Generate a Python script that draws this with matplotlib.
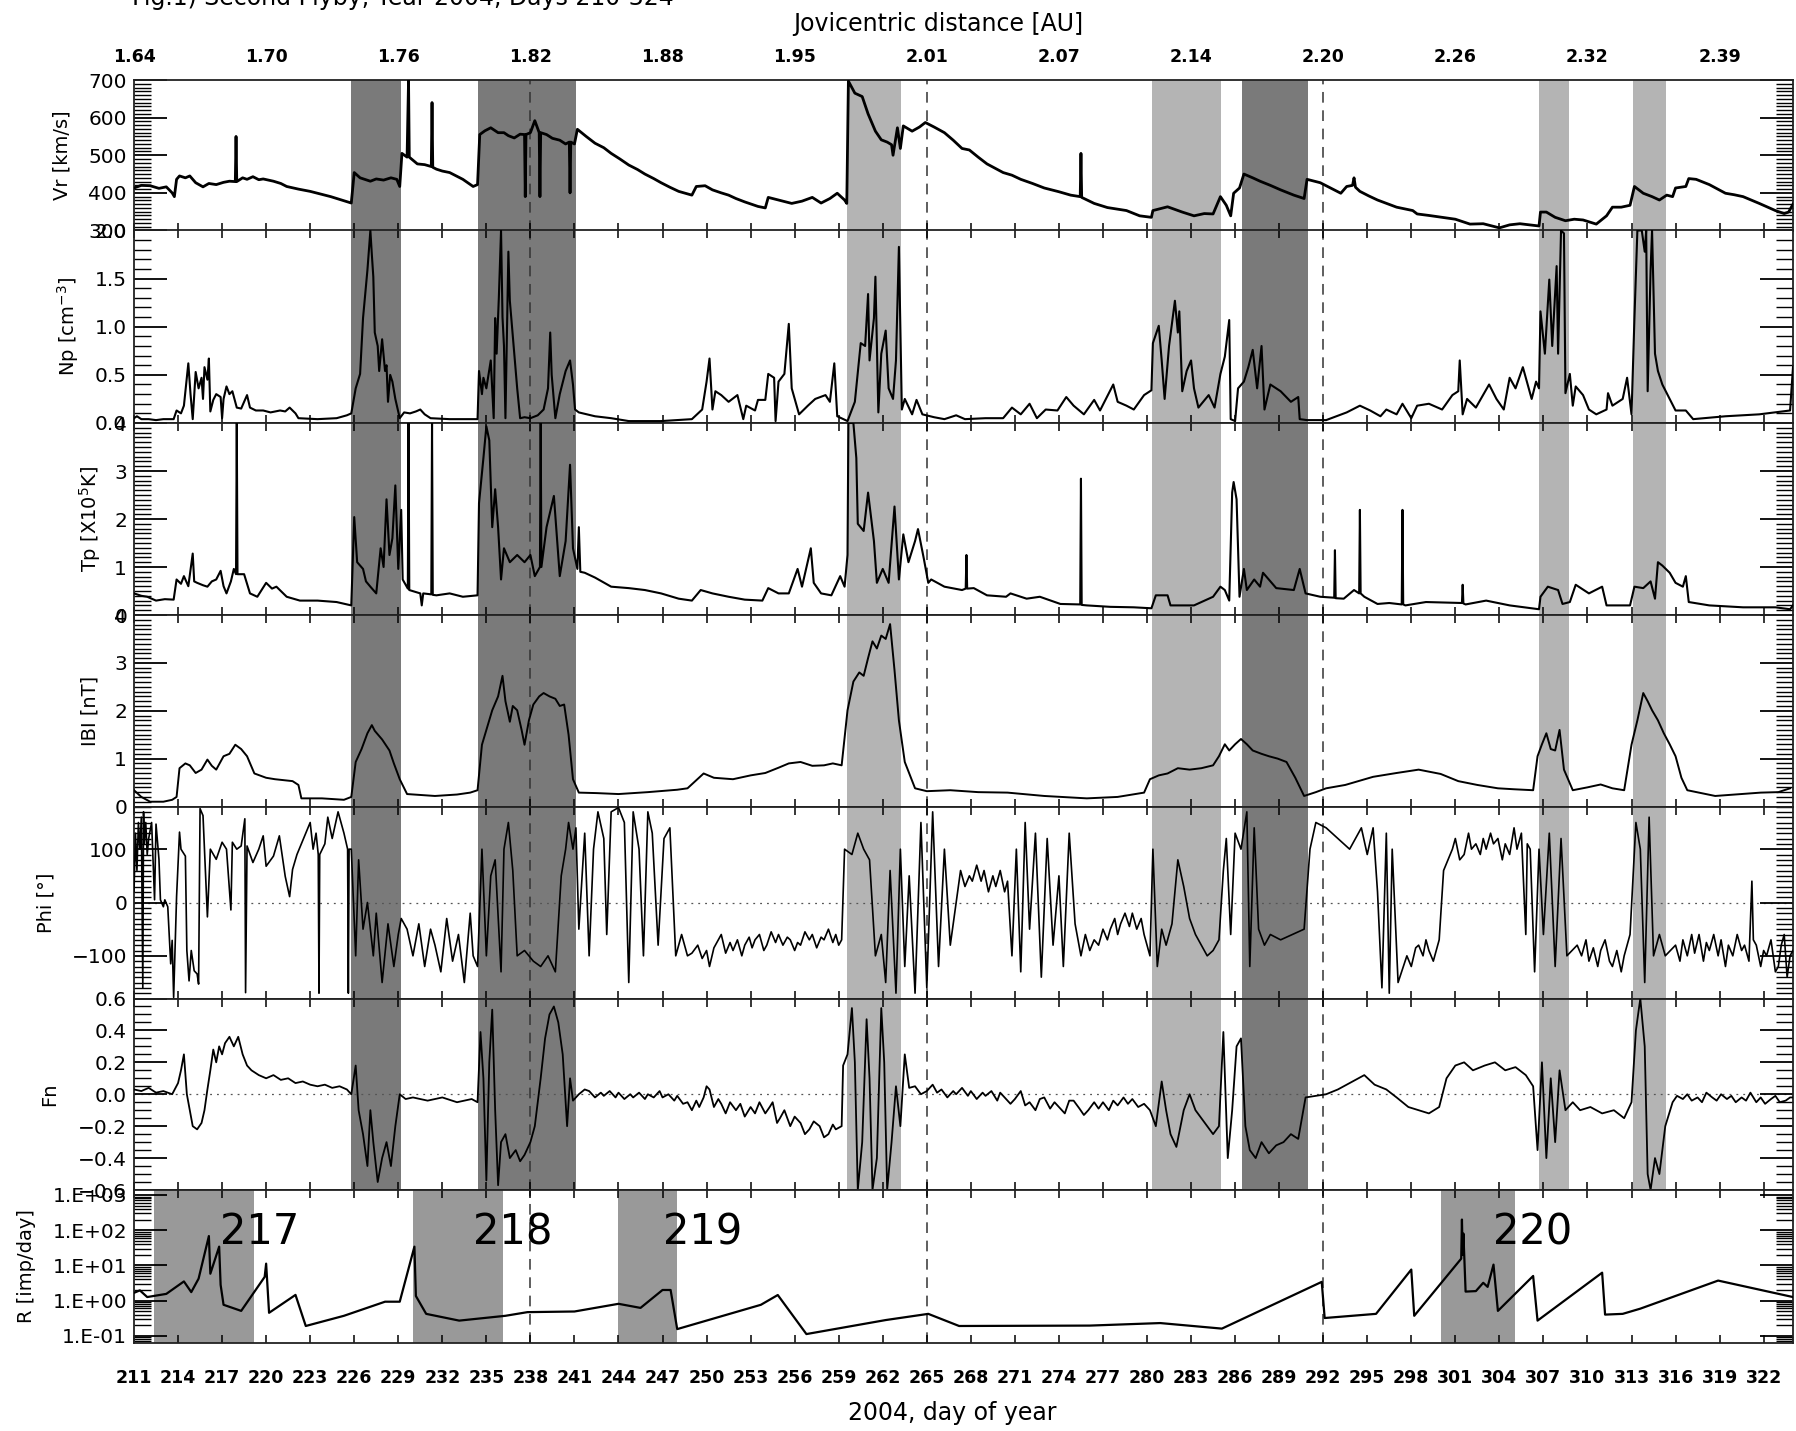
"""Ulysses second Jupiter flyby 2004: solar wind, field and dust impact rate panels."""
import numpy as np
import matplotlib
matplotlib.use("Agg")
import matplotlib.pyplot as plt
from matplotlib.ticker import FixedLocator, MultipleLocator, LogLocator, FuncFormatter, NullFormatter

# (day of year, value) pairs per panel
VR = [(211.0,413),(211.5,420),(212.1,419),(212.7,412),(213.2,416),(213.6,400),(213.75,390),(213.9,436),(214.1,445),(214.5,440),(214.8,445),(215.2,427),(215.7,416),(216.1,425),(216.6,422),(217.1,428),(217.5,431),(217.9,430),(217.95,550),(218.0,430),(218.4,440),(218.7,436),(219.1,443),(219.5,435),(219.8,437),(220.5,431),(221.0,425),(221.4,417),(222.2,410),(223.0,404),(223.7,397),(224.4,390),(225.3,379),(225.8,373),(226.0,454),(226.4,440),(226.8,435),(227.1,431),(227.5,437),(228.0,434),(228.5,440),(228.9,436),(229.1,417),(229.25,505),(229.6,495),(229.7,700),(229.75,495),(230.3,477),(230.8,475),(231.25,470),(231.3,640),(231.35,468),(231.6,463),(232.0,458),(232.5,454),(233.0,444),(233.4,436),(234.1,417),(234.4,422),(234.55,555),(234.9,565),(235.3,573),(235.8,560),(236.2,560),(236.5,552),(236.9,546),(237.3,556),(237.6,555),(237.65,390),(237.7,555),(238.0,560),(238.3,592),(238.6,560),(238.65,390),(238.7,560),(239.1,555),(239.5,545),(240.0,540),(240.4,530),(240.65,535),(240.7,400),(240.75,535),(241.0,530),(241.2,569),(241.8,550),(242.4,532),(243.0,520),(243.5,505),(244.1,490),(244.7,474),(245.3,462),(245.8,450),(246.4,438),(246.9,427),(247.5,415),(248.1,404),(249.0,394),(249.3,417),(249.9,419),(250.4,408),(251.0,400),(251.5,394),(252.0,385),(252.6,376),(253.5,364),(254.0,360),(254.2,388),(254.9,381),(255.4,376),(255.8,372),(256.5,378),(257.2,388),(257.8,373),(258.4,385),(258.9,399),(259.4,381),(259.55,372),(259.66,697),(260.1,665),(260.6,656),(261.0,610),(261.5,564),(261.9,541),(262.3,535),(262.6,528),(262.7,500),(263.0,573),(263.2,518),(263.4,578),(264.0,564),(264.5,575),(264.9,587),(265.5,575),(266.2,560),(266.8,540),(267.4,518),(267.9,514),(268.5,495),(269.1,477),(270.2,454),(270.8,447),(271.4,436),(272.2,425),(273.0,413),(274.0,403),(274.8,394),(275.45,390),(275.5,505),(275.55,388),(276.4,372),(277.3,361),(278.6,353),(279.5,339),(280.3,335),(280.4,353),(281.4,363),(282.4,349),(283.2,339),(283.9,345),(284.5,344),(285.0,390),(285.4,367),(285.7,339),(285.9,399),(286.3,413),(286.6,450),(287.2,440),(287.7,431),(288.4,420),(289.1,408),(290.0,394),(290.7,385),(290.9,436),(291.8,427),(292.5,413),(293.2,399),(293.6,417),(294.0,420),(294.1,440),(294.2,415),(294.5,404),(295.1,392),(295.7,381),(297.0,362),(298.1,353),(298.4,344),(299.2,340),(300.1,335),(301.0,330),(302.0,317),(302.9,318),(304.0,307),(304.7,315),(305.4,318),(306.7,312),(306.8,349),(307.2,349),(307.8,335),(308.5,326),(309.1,330),(309.7,328),(310.6,317),(311.3,339),(311.7,362),(312.3,362),(312.9,367),(313.2,417),(313.8,399),(314.4,390),(314.9,381),(315.4,394),(315.8,390),(316.0,413),(316.7,417),(316.9,438),(317.4,436),(318.3,422),(319.4,399),(320.0,395),(320.6,390),(321.7,372),(322.8,353),(323.4,345),(323.7,349),(324.0,370)]

NP = [(211.0,0.05),(211.2,0.07),(211.5,0.04),(212.0,0.04),(212.5,0.03),(213.0,0.04),(213.7,0.04),(213.9,0.13),(214.2,0.10),(214.4,0.18),(214.7,0.62),(214.85,0.30),(215.0,0.04),(215.2,0.53),(215.4,0.36),(215.6,0.47),(215.7,0.25),(215.8,0.58),(216.0,0.45),(216.1,0.67),(216.2,0.12),(216.4,0.24),(216.6,0.30),(216.9,0.27),(217.0,0.05),(217.1,0.25),(217.3,0.38),(217.5,0.30),(217.7,0.33),(218.0,0.16),(218.3,0.15),(218.5,0.22),(218.7,0.29),(218.9,0.16),(219.3,0.13),(219.8,0.13),(220.3,0.11),(220.95,0.13),(221.3,0.12),(221.6,0.16),(222.0,0.10),(222.2,0.05),(223.5,0.04),(224.8,0.05),(225.5,0.08),(225.8,0.10),(226.1,0.36),(226.4,0.51),(226.6,1.09),(226.9,1.59),(227.1,2.0),(227.2,1.75),(227.3,1.52),(227.4,0.94),(227.6,0.80),(227.7,0.54),(227.9,0.87),(228.1,0.54),(228.2,0.60),(228.3,0.22),(228.45,0.50),(228.6,0.43),(228.8,0.25),(229.1,0.05),(229.4,0.11),(229.8,0.10),(230.2,0.12),(230.5,0.14),(230.8,0.09),(231.2,0.05),(232.5,0.04),(234.4,0.04),(234.5,0.54),(234.7,0.30),(234.8,0.47),(235.0,0.36),(235.3,0.65),(235.5,0.05),(235.6,1.09),(235.7,0.72),(235.85,1.3),(236.0,2.0),(236.1,1.1),(236.2,0.80),(236.3,0.05),(236.5,1.78),(236.6,1.27),(236.75,1.0),(236.9,0.72),(237.1,0.36),(237.3,0.05),(237.6,0.06),(238.0,0.05),(238.5,0.08),(238.9,0.14),(239.2,0.36),(239.35,0.94),(239.45,0.50),(239.7,0.05),(240.0,0.30),(240.4,0.54),(240.7,0.65),(240.9,0.40),(241.04,0.14),(241.3,0.11),(242.4,0.07),(243.5,0.05),(244.7,0.02),(246.9,0.02),(249.0,0.04),(249.7,0.14),(250.0,0.43),(250.2,0.67),(250.4,0.14),(250.6,0.33),(251.0,0.29),(251.5,0.22),(252.1,0.29),(252.5,0.04),(252.7,0.18),(253.3,0.13),(253.5,0.24),(254.0,0.24),(254.2,0.51),(254.6,0.47),(254.7,0.02),(254.9,0.43),(255.3,0.51),(255.6,1.03),(255.8,0.36),(256.3,0.09),(256.9,0.18),(257.4,0.25),(258.1,0.29),(258.4,0.22),(258.7,0.62),(258.9,0.07),(259.6,0.02),(260.1,0.22),(260.5,0.83),(260.8,0.80),(261.0,1.34),(261.1,0.65),(261.4,1.09),(261.5,1.52),(261.7,0.11),(261.9,0.72),(262.2,0.96),(262.4,0.36),(262.7,0.25),(262.9,0.65),(263.1,1.83),(263.3,0.14),(263.5,0.25),(264.0,0.09),(264.3,0.24),(264.7,0.09),(265.5,0.06),(266.2,0.04),(267.0,0.08),(267.6,0.04),(269.0,0.05),(270.2,0.05),(270.8,0.16),(271.4,0.09),(272.0,0.20),(272.5,0.05),(273.1,0.14),(273.9,0.13),(274.5,0.27),(275.0,0.18),(275.7,0.09),(276.4,0.24),(276.8,0.13),(277.7,0.40),(278.0,0.22),(278.6,0.18),(279.1,0.14),(279.8,0.29),(280.3,0.34),(280.4,0.83),(280.8,1.01),(281.0,0.65),(281.2,0.25),(281.5,0.80),(281.9,1.27),(282.1,0.94),(282.2,1.16),(282.4,0.33),(282.7,0.54),(283.0,0.65),(283.2,0.36),(283.5,0.16),(284.2,0.29),(284.6,0.16),(285.0,0.51),(285.3,0.69),(285.6,1.07),(285.7,0.04),(286.0,0.02),(286.2,0.36),(286.6,0.43),(286.9,0.58),(287.2,0.76),(287.5,0.36),(287.8,0.80),(288.0,0.14),(288.4,0.40),(289.1,0.33),(289.8,0.22),(290.3,0.27),(290.4,0.04),(290.9,0.03),(292.2,0.03),(293.6,0.11),(294.5,0.18),(295.2,0.13),(295.9,0.07),(296.3,0.14),(297.0,0.09),(297.4,0.20),(298.0,0.05),(298.4,0.18),(299.2,0.20),(300.1,0.14),(300.8,0.29),(301.2,0.33),(301.3,0.65),(301.5,0.09),(301.8,0.25),(302.4,0.16),(303.3,0.40),(303.8,0.25),(304.3,0.14),(304.7,0.47),(305.1,0.36),(305.6,0.58),(306.2,0.25),(306.5,0.43),(306.7,0.36),(306.8,1.16),(307.1,0.72),(307.4,1.49),(307.6,0.80),(307.9,1.63),(308.0,0.72),(308.2,2.0),(308.4,1.97),(308.5,0.31),(308.8,0.51),(309.0,0.18),(309.2,0.38),(309.7,0.29),(310.1,0.14),(310.6,0.09),(311.3,0.14),(311.4,0.31),(311.7,0.18),(312.4,0.25),(312.7,0.47),(313.0,0.09),(313.2,1.09),(313.4,2.0),(313.7,2.0),(313.9,1.78),(314.0,2.0),(314.1,0.33),(314.3,1.59),(314.4,2.0),(314.6,0.72),(314.8,0.54),(315.1,0.40),(315.6,0.25),(316.0,0.13),(316.7,0.13),(317.2,0.04),(319.4,0.07),(321.7,0.09),(323.8,0.13),(324.0,0.58)]

TP = [(211.0,0.45),(211.5,0.40),(211.9,0.38),(212.5,0.30),(213.1,0.33),(213.7,0.32),(213.9,0.74),(214.2,0.65),(214.4,0.81),(214.7,0.60),(215.0,1.28),(215.1,0.70),(215.3,0.67),(215.7,0.62),(216.0,0.59),(216.3,0.70),(216.6,0.74),(216.9,0.92),(217.1,0.60),(217.3,0.45),(217.6,0.70),(217.8,0.96),(217.95,0.85),(218.0,4.0),(218.05,0.85),(218.5,0.85),(218.9,0.45),(219.4,0.38),(220.0,0.67),(220.4,0.55),(220.7,0.59),(221.4,0.38),(222.3,0.30),(223.5,0.30),(224.8,0.27),(225.8,0.20),(226.0,2.04),(226.2,1.10),(226.6,0.96),(226.8,0.70),(227.1,0.59),(227.5,0.45),(227.8,1.39),(228.0,1.0),(228.2,2.41),(228.4,1.25),(228.6,1.6),(228.8,2.70),(229.0,0.96),(229.2,2.19),(229.3,0.74),(229.65,0.55),(229.7,4.0),(229.75,0.52),(230.5,0.45),(230.6,0.20),(230.7,0.45),(231.25,0.43),(231.3,4.0),(231.35,0.42),(231.6,0.41),(232.5,0.45),(233.4,0.38),(234.4,0.41),(234.5,2.33),(234.8,3.27),(235.0,3.93),(235.2,3.64),(235.4,1.83),(235.6,2.62),(235.8,1.83),(236.0,0.74),(236.2,1.39),(236.6,1.10),(237.1,1.25),(237.6,1.10),(238.0,1.25),(238.3,0.81),(238.65,1.0),(238.7,4.0),(238.75,1.0),(239.1,1.83),(239.6,2.48),(240.0,0.81),(240.4,1.54),(240.7,3.13),(240.9,1.39),(241.2,0.96),(241.3,1.83),(241.4,0.90),(241.7,0.88),(242.4,0.78),(243.5,0.59),(244.7,0.56),(245.8,0.52),(246.9,0.45),(248.1,0.34),(249.0,0.30),(249.6,0.52),(250.4,0.45),(251.5,0.38),(252.6,0.32),(253.8,0.30),(254.2,0.56),(254.9,0.45),(255.6,0.45),(256.2,0.96),(256.5,0.59),(257.1,1.39),(257.3,0.67),(257.8,0.45),(258.5,0.41),(259.1,0.81),(259.4,0.59),(259.6,1.25),(259.66,4.0),(260.0,4.0),(260.2,3.27),(260.3,1.90),(260.7,1.75),(261.0,2.55),(261.4,1.54),(261.6,0.67),(262.0,0.96),(262.4,0.67),(262.8,2.26),(263.1,0.74),(263.4,1.68),(263.75,1.10),(264.2,1.54),(264.4,1.79),(264.8,1.17),(265.1,0.67),(265.3,0.74),(266.2,0.59),(267.4,0.52),(267.65,0.55),(267.7,1.25),(267.75,0.55),(268.2,0.56),(269.1,0.41),(270.4,0.38),(270.7,0.45),(271.8,0.34),(272.7,0.38),(274.1,0.23),(275.45,0.22),(275.5,2.84),(275.55,0.21),(275.9,0.20),(277.5,0.17),(279.1,0.16),(280.3,0.14),(280.6,0.41),(281.4,0.41),(281.6,0.20),(283.2,0.20),(284.5,0.38),(285.0,0.59),(285.3,0.52),(285.6,0.30),(285.8,2.55),(285.9,2.77),(286.1,2.41),(286.3,0.38),(286.6,0.96),(286.8,0.52),(287.3,0.74),(287.7,0.59),(287.9,0.88),(288.8,0.56),(290.0,0.52),(290.4,0.96),(290.8,0.45),(291.8,0.38),(292.75,0.36),(292.8,1.35),(292.85,0.35),(293.4,0.34),(294.1,0.52),(294.45,0.45),(294.5,2.19),(294.55,0.45),(294.8,0.38),(295.7,0.23),(296.5,0.25),(297.35,0.22),(297.4,2.19),(297.45,0.22),(297.6,0.20),(299.0,0.27),(301.45,0.25),(301.5,0.63),(301.55,0.24),(301.7,0.22),(303.1,0.30),(304.7,0.20),(306.7,0.12),(306.8,0.38),(307.3,0.59),(308.0,0.52),(308.3,0.23),(308.8,0.27),(309.2,0.63),(310.1,0.45),(311.0,0.59),(311.3,0.20),(312.9,0.20),(313.2,0.59),(313.8,0.56),(314.3,0.70),(314.6,0.34),(314.8,1.10),(315.1,1.03),(315.6,0.88),(316.0,0.67),(316.5,0.59),(316.7,0.81),(316.9,0.27),(318.3,0.20),(320.6,0.16),(322.8,0.16),(323.8,0.12),(324.0,0.20)]

BMAG = [(211.0,0.34),(211.5,0.2),(212.1,0.1),(213.0,0.1),(213.6,0.14),(213.9,0.2),(214.1,0.8),(214.5,0.9),(214.8,0.86),(215.2,0.7),(215.6,0.77),(216.0,0.98),(216.3,0.85),(216.6,0.77),(217.1,1.05),(217.5,1.1),(217.9,1.29),(218.3,1.2),(218.7,1.05),(219.2,0.69),(220.0,0.6),(220.6,0.57),(221.2,0.55),(221.8,0.53),(222.2,0.45),(222.4,0.17),(223.8,0.17),(225.3,0.14),(225.8,0.2),(226.1,0.93),(226.5,1.2),(226.9,1.53),(227.2,1.7),(227.4,1.58),(227.9,1.4),(228.4,1.17),(228.7,0.9),(229.1,0.57),(229.6,0.26),(231.5,0.22),(233.0,0.25),(233.9,0.29),(234.4,0.34),(234.7,1.29),(235.0,1.6),(235.4,2.01),(235.8,2.3),(236.1,2.73),(236.3,2.2),(236.6,1.77),(236.8,2.1),(237.1,2.01),(237.4,1.6),(237.6,1.29),(237.9,1.8),(238.2,2.13),(238.6,2.3),(238.9,2.37),(239.3,2.3),(239.7,2.25),(240.0,2.1),(240.3,2.13),(240.6,1.5),(240.9,0.57),(241.3,0.29),(242.5,0.28),(244.0,0.26),(246.0,0.3),(248.0,0.35),(248.7,0.38),(249.3,0.55),(249.8,0.69),(250.5,0.6),(251.8,0.57),(253.0,0.65),(254.0,0.7),(254.9,0.81),(255.6,0.9),(256.4,0.93),(257.2,0.85),(258.0,0.86),(258.6,0.9),(259.2,0.86),(259.6,2.01),(260.0,2.61),(260.4,2.8),(260.7,2.73),(261.0,3.1),(261.3,3.45),(261.6,3.3),(261.9,3.57),(262.2,3.5),(262.5,3.81),(262.8,2.85),(263.1,1.8),(263.5,0.93),(264.2,0.38),(265.0,0.32),(266.6,0.34),(268.5,0.3),(270.5,0.29),(273.0,0.22),(275.9,0.17),(278.0,0.2),(279.8,0.29),(280.2,0.57),(280.8,0.65),(281.4,0.69),(282.1,0.8),(282.9,0.77),(283.7,0.8),(284.5,0.86),(284.9,1.05),(285.3,1.3),(285.6,1.17),(286.0,1.3),(286.4,1.41),(286.8,1.3),(287.2,1.17),(287.8,1.1),(288.3,1.05),(288.9,1.0),(289.5,0.93),(290.1,0.6),(290.7,0.22),(291.5,0.3),(292.2,0.38),(293.5,0.45),(295.4,0.62),(297.0,0.7),(298.5,0.77),(300.0,0.68),(301.2,0.53),(302.5,0.45),(303.9,0.38),(305.0,0.36),(306.3,0.34),(306.6,1.05),(306.9,1.3),(307.2,1.53),(307.5,1.2),(307.8,1.17),(308.1,1.6),(308.4,0.77),(309.0,0.34),(310.0,0.4),(310.9,0.46),(311.7,0.38),(312.5,0.34),(313.0,1.29),(313.4,1.8),(313.8,2.37),(314.1,2.2),(314.4,2.01),(314.8,1.8),(315.2,1.53),(315.6,1.3),(316.0,1.05),(316.4,0.6),(316.8,0.34),(318.7,0.22),(320.0,0.25),(321.8,0.29),(323.0,0.3),(323.8,0.38)]

PHI = [(211.0,20),(211.1,130),(211.2,60),(211.3,150),(211.4,100),(211.5,160),(211.6,-160),(211.65,170),(211.7,110),(211.8,150),(211.9,90),(212.0,120),(212.2,150),(212.4,5),(212.5,147),(212.7,81),(212.8,5),(213.0,-8),(213.1,5),(213.3,-8),(213.5,-115),(213.6,-71),(213.7,-178),(213.9,11),(214.1,132),(214.2,100),(214.5,87),(214.6,-90),(214.75,-147),(214.9,-90),(215.1,-128),(215.3,-134),(215.4,-153),(215.5,176),(215.7,163),(215.8,100),(216.0,-27),(216.2,100),(216.6,81),(217.0,113),(217.3,100),(217.6,-14),(217.7,113),(218.0,100),(218.3,106),(218.55,157),(218.6,-169),(218.7,106),(219.1,75),(219.5,100),(219.8,125),(220.0,68),(220.5,87),(220.9,125),(221.3,49),(221.6,11),(221.8,62),(222.1,90),(222.4,110),(222.7,130),(223.0,150),(223.2,100),(223.4,130),(223.55,90),(223.6,-170),(223.65,90),(224.0,110),(224.2,160),(224.5,120),(224.9,170),(225.3,130),(225.55,100),(225.6,-170),(225.65,100),(225.8,100),(226.1,-100),(226.3,80),(226.6,-50),(226.9,0),(227.3,-100),(227.5,-20),(227.9,-150),(228.3,-40),(228.7,-120),(229.0,-60),(229.2,-30),(229.6,-50),(230.0,-100),(230.4,-40),(230.8,-120),(231.2,-50),(231.5,-80),(231.9,-130),(232.3,-30),(232.7,-110),(233.1,-60),(233.5,-150),(233.9,-20),(234.1,-100),(234.4,-120),(234.7,100),(235.0,-100),(235.3,50),(235.6,80),(236.0,-130),(236.2,100),(236.5,150),(236.8,60),(237.1,-100),(237.6,-90),(238.2,-110),(238.7,-120),(239.2,-100),(239.7,-130),(240.1,50),(240.4,100),(240.6,150),(240.9,100),(241.1,140),(241.3,-50),(241.7,130),(242.0,-100),(242.3,100),(242.6,170),(243.0,120),(243.2,-60),(243.5,170),(244.0,178),(244.4,150),(244.7,-150),(245.0,170),(245.4,100),(245.7,-100),(246.0,170),(246.3,130),(246.7,-80),(247.1,120),(247.5,140),(247.9,-100),(248.3,-60),(248.7,-100),
       (249.0,-95),(249.4,-80),(249.7,-105),(250.0,-90),(250.2,-120),(250.5,-85),(250.8,-70),(251.0,-60),(251.3,-95),(251.6,-75),(251.8,-90),(252.1,-70),(252.4,-100),(252.6,-80),(252.9,-65),(253.1,-85),(253.3,-70),(253.6,-60),(253.9,-90),(254.1,-80),(254.4,-55),(254.7,-75),(254.9,-60),(255.2,-80),(255.5,-65),(255.7,-70),(256.0,-90),(256.2,-75),(256.4,-80),(256.7,-55),(257.0,-70),(257.2,-60),(257.5,-85),(257.8,-65),(258.0,-70),(258.3,-50),(258.6,-75),(258.8,-60),(259.0,-80),(259.2,-70),
       (259.4,100),(259.9,90),(260.3,130),(260.7,100),(261.1,80),(261.5,-100),(261.9,-60),(262.2,-150),(262.5,60),(262.9,-170),(263.2,100),(263.5,-120),(263.8,50),(264.2,-170),(264.6,150),(265.0,-160),(265.4,170),(265.8,-120),(266.2,100),(266.6,-80),
       (267.3,60),(267.6,30),(267.9,50),(268.1,40),(268.4,70),(268.7,40),(268.9,60),(269.2,20),(269.5,50),(269.7,30),(270.0,60),(270.3,20),(270.5,40),
       (270.8,-100),(271.1,100),(271.4,-130),(271.7,150),(272.0,-50),(272.4,130),(272.8,-140),(273.2,120),(273.6,-80),(274.0,50),(274.3,-120),(274.7,130),(275.1,-40),
       (275.5,-100),(275.8,-60),(276.1,-90),(276.4,-70),(276.7,-80),(277.0,-50),(277.3,-70),(277.5,-50),(277.8,-30),(278.0,-60),(278.2,-40),(278.5,-20),(278.8,-45),(279.0,-20),(279.3,-50),(279.6,-30),(279.8,-60),
       (280.2,-100),(280.4,100),(280.7,-120),(281.0,-50),(281.3,-80),(281.7,-40),(282.1,80),(282.5,30),(282.9,-30),(283.3,-60),(283.7,-80),(284.1,-100),(284.5,-90),(284.9,-70),(285.2,60),(285.4,120),(285.7,-60),(286.0,130),(286.4,100),(286.8,170),(287.0,-120),(287.3,140),(287.6,-50),(288.0,-80),(288.4,-60),(289.1,-70),(289.9,-60),(290.7,-50),(291.1,100),(291.5,150),(292.2,140),(293.0,120),(293.8,100),(294.6,140),(295.0,90),(295.4,140),(295.7,20),(296.0,-160),(296.3,130),(296.5,-170),(296.7,100),(297.1,-150),
       (297.7,-100),(298.0,-120),(298.3,-85),(298.5,-80),(298.8,-100),(299.0,-70),(299.2,-90),(299.5,-110),(299.9,-70),
       (300.2,60),(300.5,80),(300.8,100),(301.0,120),(301.3,80),(301.6,90),(301.9,130),(302.1,100),(302.4,110),(302.7,90),(302.9,120),(303.1,100),(303.4,130),(303.6,110),(303.9,120),(304.2,80),(304.4,110),(304.7,90),(305.0,140),(305.2,100),(305.5,130),(305.8,-60),(305.9,110),(306.1,100),
       (306.4,-130),(306.7,100),(307.0,-60),(307.4,130),(307.8,-120),(308.2,120),(308.6,-100),
       (309.3,-80),(309.6,-100),(309.9,-70),(310.1,-110),(310.4,-85),(310.7,-120),(310.9,-90),(311.2,-70),(311.5,-110),(311.7,-120),(312.0,-90),(312.3,-130),(312.5,-100),(312.7,-80),(312.9,-60),
       (313.3,150),(313.6,100),(313.9,-150),(314.2,160),(314.5,-100),(314.9,-60),(315.3,-100),
       (316.0,-80),(316.3,-110),(316.5,-70),(316.8,-100),(317.1,-60),(317.3,-95),(317.6,-60),(317.9,-110),(318.1,-75),(318.3,-90),(318.6,-60),(318.9,-100),(319.1,-70),(319.4,-120),(319.6,-80),(319.9,-100),(320.2,-60),(320.5,-90),(320.7,-80),(321.0,-110),(321.2,40),(321.3,-70),(321.5,-80),(321.8,-120),(322.0,-90),(322.2,-100),(322.5,-70),(322.8,-130),(323.0,-120),(323.2,-80),(323.4,-60),(323.6,-140),(323.8,-100),(324.0,-90)]

FN = [(211.0,0.03),(211.5,0.02),(212.0,0.04),(212.5,0.01),(213.0,0.02),(213.6,0.0),(214.0,0.07),(214.2,0.15),(214.4,0.25),(214.6,0.0),(214.8,-0.1),(215.0,-0.2),(215.3,-0.22),(215.6,-0.18),(215.8,-0.1),(216.0,0.03),(216.2,0.15),(216.4,0.28),(216.6,0.2),(216.8,0.30),(217.0,0.25),(217.2,0.32),(217.5,0.36),(217.8,0.30),(218.1,0.36),(218.4,0.25),(218.7,0.18),(219.0,0.15),(219.5,0.12),(220.0,0.10),(220.5,0.12),(221.0,0.09),(221.5,0.10),(222.0,0.07),(222.5,0.08),(223.0,0.06),(223.5,0.05),(224.0,0.06),(224.5,0.04),(225.0,0.05),(225.5,0.03),(225.8,0.0),(226.1,0.18),(226.3,-0.1),(226.6,-0.25),(226.9,-0.45),(227.1,-0.1),(227.3,-0.3),(227.6,-0.55),(227.9,-0.4),(228.2,-0.3),(228.5,-0.45),(228.8,-0.2),(229.1,0.0),(229.5,-0.03),(230.0,-0.02),(231.0,-0.04),(232.0,-0.02),(233.0,-0.05),(234.0,-0.03),(234.4,-0.05),(234.6,0.39),(234.8,0.1),(235.0,-0.54),(235.2,0.2),(235.4,0.53),(235.6,-0.1),(235.8,-0.57),(236.0,-0.3),(236.3,-0.25),(236.6,-0.4),(237.0,-0.35),(237.3,-0.42),(237.6,-0.38),(238.0,-0.3),(238.3,-0.2),(238.7,0.1),(239.0,0.35),(239.3,0.5),(239.6,0.55),(239.9,0.45),(240.2,0.25),(240.5,-0.2),(240.7,0.1),(240.9,-0.04),(241.3,0.0),
      (241.7,0.03),(242.0,0.02),(242.4,-0.02),(242.8,0.01),(243.0,-0.01),(243.4,0.02),(243.8,-0.02),(244.0,0.01),(244.4,-0.03),(244.8,0.0),(245.0,-0.02),(245.4,0.01),(245.8,-0.03),(246.0,0.0),(246.4,-0.02),(246.8,0.02),(247.0,-0.02),(247.4,0.0),(247.8,-0.04),(248.0,-0.01),(248.4,-0.06),(248.7,-0.05),(249.0,-0.1),(249.3,-0.04),(249.5,-0.08),(249.8,-0.02),(250.0,0.05),(250.2,0.03),(250.5,-0.08),(250.8,-0.03),(251.0,-0.06),(251.3,-0.12),(251.6,-0.05),(252.0,-0.1),(252.3,-0.06),(252.6,-0.14),(253.0,-0.08),(253.3,-0.12),(253.6,-0.05),(254.0,-0.12),(254.3,-0.08),(254.5,-0.05),(254.8,-0.18),(255.0,-0.15),(255.3,-0.1),(255.7,-0.2),(256.0,-0.14),(256.4,-0.18),(256.7,-0.25),(257.0,-0.22),(257.3,-0.17),(257.7,-0.2),(258.0,-0.27),(258.3,-0.25),(258.6,-0.19),(258.8,-0.22),(259.2,-0.2),
      (259.3,0.18),(259.6,0.25),(259.9,0.54),(260.1,0.2),(260.3,-0.6),(260.6,-0.3),(260.9,0.47),(261.1,0.1),(261.3,-0.6),(261.6,-0.4),(261.9,0.54),(262.1,0.2),(262.3,-0.6),(262.6,-0.3),(262.9,0.05),(263.2,-0.2),(263.5,0.25),(263.8,0.04),
      (264.2,0.05),(264.6,0.0),(265.0,0.02),(265.4,0.06),(265.7,0.01),(266.0,0.03),(266.4,-0.02),(266.8,0.02),(267.0,0.0),(267.4,0.04),(267.8,-0.01),(268.0,0.02),(268.4,-0.03),(268.8,0.01),(269.0,-0.01),(269.4,0.02),(269.8,-0.04),(270.0,0.01),(270.4,-0.03),(270.7,-0.06),(271.0,-0.03),(271.4,0.02),(271.7,-0.07),(272.0,-0.05),(272.4,-0.1),(272.7,-0.03),(273.0,-0.02),(273.4,-0.09),(273.7,-0.05),(274.0,-0.08),(274.4,-0.12),(274.7,-0.04),(275.0,-0.04),(275.4,-0.09),(275.7,-0.13),(276.0,-0.1),(276.4,-0.05),(276.7,-0.09),(277.0,-0.05),(277.4,-0.1),(277.7,-0.04),(278.0,-0.07),(278.4,-0.02),(278.7,-0.06),(279.0,-0.03),(279.4,-0.08),(279.8,-0.06),
      (280.2,-0.1),(280.6,-0.2),(281.0,0.08),(281.3,-0.1),(281.6,-0.25),(282.0,-0.33),(282.5,-0.1),(282.9,0.0),(283.3,-0.1),(283.7,-0.15),(284.1,-0.2),(284.5,-0.25),(284.9,-0.2),(285.2,0.39),(285.5,-0.4),(285.8,-0.1),(286.1,0.3),(286.4,0.35),(286.7,-0.2),(287.0,-0.35),(287.4,-0.4),(287.8,-0.3),(288.3,-0.37),(288.8,-0.32),(289.3,-0.3),(289.8,-0.25),(290.3,-0.28),(290.8,-0.02),(291.5,-0.01),(292.2,0.0),(293.0,0.03),(294.0,0.08),(294.8,0.12),(295.5,0.06),(296.3,0.03),(297.0,-0.02),(297.8,-0.08),(298.5,-0.1),(299.2,-0.12),(299.9,-0.08),(300.4,0.1),(301.0,0.18),(301.6,0.2),(302.2,0.15),(303.0,0.18),(303.7,0.2),(304.4,0.15),(305.1,0.17),(305.8,0.12),(306.3,0.05),(306.6,-0.35),(306.9,0.2),(307.2,-0.4),(307.5,0.1),(307.8,-0.3),(308.1,0.15),(308.5,-0.1),(309.0,-0.05),(309.5,-0.1),(310.2,-0.08),(311.0,-0.12),(311.8,-0.1),(312.5,-0.15),(313.0,-0.05),(313.3,0.4),(313.6,0.6),(313.9,0.3),(314.1,-0.5),(314.3,-0.6),(314.6,-0.4),(314.9,-0.5),(315.3,-0.2),
      (315.8,-0.05),(316.1,-0.01),(316.5,-0.03),(316.8,0.0),(317.1,-0.04),(317.5,-0.02),(317.8,-0.05),(318.1,0.01),(318.5,-0.02),(318.8,-0.04),(319.1,0.0),(319.5,-0.03),(319.8,-0.01),(320.1,-0.05),(320.5,-0.02),(320.8,-0.04),(321.1,0.01),(321.5,-0.05),(321.8,-0.02),(322.1,-0.06),(322.5,-0.03),(322.8,-0.01),(323.1,-0.05),(323.5,-0.04),(323.8,-0.02),(324.0,-0.02)]

# dust impact rate [imp/day]
RATE = [(211.06,1.7),(211.4,1.95),(211.9,1.26),(213.2,1.55),(214.4,3.5),(214.9,1.74),(215.4,4.2),(216.1,68),(216.2,5.8),(216.8,34),(216.9,2.8),(217.1,0.76),(218.3,0.51),(219.9,4.7),(220.0,11.2),(220.2,0.45),(222.0,1.45),(222.7,0.19),(225.3,0.37),(228.1,0.93),(229.1,0.93),(230.1,34),(230.2,1.35),(230.9,0.42),(233.15,0.27),(236.3,0.37),(237.8,0.47),(241.0,0.49),(244.0,0.81),(245.5,0.62),(247.0,2.0),(247.55,2.0),(248.0,0.155),(253.7,0.76),(254.85,1.44),(256.8,0.112),(262.2,0.28),(265.1,0.42),(267.2,0.19),(276.1,0.195),(280.9,0.23),(285.1,0.16),(291.9,3.4),(292.1,0.32),(295.6,0.42),(298.0,7.6),(298.2,0.37),(301.4,15.5),(301.45,200),(301.5,20),(301.55,80),(301.7,1.8),(302.4,1.86),(302.9,3.2),(303.2,2.45),(303.6,10.5),(303.9,0.51),(306.3,5.0),(306.6,0.27),(311.0,6.2),(311.2,0.40),(312.4,0.42),(313.6,0.59),(318.9,3.7),(324.0,1.26)]

DARK_SPANS = [(225.8, 229.2), (234.45, 241.1), (286.45, 290.95)]
LIGHT_SPANS = [(259.55, 263.25), (280.33, 285.05), (306.73, 308.72), (313.08, 315.35)]
STREAM_SPANS = [(212.35, 219.2), (230.0, 236.1), (244.0, 248.0), (300.0, 305.07)]
STREAM_IDS = ["217", "218", "219", "220"]
STREAM_LABEL_DAY = [216.86, 234.1, 247.0, 303.6]
DASHED_DAYS = [238, 265, 292]
DIST_DAYS = [211, 220, 229, 238, 247, 256, 265, 274, 283, 292, 301, 310, 319]
DIST_LABELS = ["1.64", "1.70", "1.76", "1.82", "1.88", "1.95", "2.01",
               "2.07", "2.14", "2.20", "2.26", "2.32", "2.39"]

W, H = 1796, 1431
EDGES = [80, 230.5, 423, 615, 806.5, 998.5, 1190, 1342.5]   # panel borders, px from top
X0, X1 = 134, 1793
TICKFONT = ["Liberation Sans Narrow", "DejaVu Sans"]

# points, ylim, major, minor, label, label x(px)
PANELS = [
    (VR, (300, 700), 100, 10, "Vr [km/s]", 62),
    (NP, (0, 2.0), 0.5, 0.1, "Np [cm$^{-3}$]", 68),
    (TP, (0, 4), 1, 0.1, "Tp [X10$^5$K]", 90),
    (BMAG, (0, 4), 1, 0.1, "IBI [nT]", 90),
    (PHI, (-180, 180), 100, 10, "Phi [°]", 46),
    (FN, (-0.6, 0.6), 0.2, 0.05, "Fn", 50),
    (RATE, (10 ** -1.19, 10 ** 3.14), None, None, "R [imp/day]", 27),
]
YFMT = ["%d", "%.1f", "%d", "%d", "%d", "%.1f", None]
LINE_W = [2.0, 1.5, 1.5, 1.4, 1.2, 1.3, 1.6]

fig = plt.figure(figsize=(W / 100, H / 100), dpi=100)
days_ticks = np.arange(211, 324, 3)

for i, (pts, ylim, maj, mnr, label, lx) in enumerate(PANELS):
    top, bot = EDGES[i], EDGES[i + 1]
    ax = fig.add_axes([X0 / W, 1 - bot / H, (X1 - X0) / W, (bot - top) / H])
    d, v = np.array(pts).T
    last = i == len(PANELS) - 1
    if last:
        for (a, b) in STREAM_SPANS:
            ax.axvspan(a, b, color="#999999", lw=0, zorder=0)
    else:
        for (a, b) in DARK_SPANS:
            ax.axvspan(a, b, color="#7a7a7a", lw=0, zorder=0)
        for (a, b) in LIGHT_SPANS:
            ax.axvspan(a, b, color="#b4b4b4", lw=0, zorder=0)
    for dd in DASHED_DAYS:
        ax.axvline(dd, color="#333333", lw=1.1, ls=(0, (7, 5)), zorder=1)
    if label.startswith("Phi") or label == "Fn":
        ax.axhline(0, color="#555555", lw=0.9, ls=(0, (1.5, 4)), zorder=1)

    ax.plot(d, v, color="k", lw=LINE_W[i], zorder=3)

    ax.set_xlim(211, 324)
    if last:
        ax.set_yscale("log")
        ax.yaxis.set_major_locator(LogLocator(base=10, numticks=10))
        ax.yaxis.set_minor_locator(LogLocator(base=10, subs=np.arange(2, 10), numticks=20))
        ax.yaxis.set_major_formatter(FuncFormatter(lambda y, p: "1.E%+03d" % round(np.log10(y))))
        ax.yaxis.set_minor_formatter(NullFormatter())
    else:
        ax.yaxis.set_major_locator(MultipleLocator(maj))
        ax.yaxis.set_minor_locator(MultipleLocator(mnr))
        fmt = YFMT[i]
        ax.yaxis.set_major_formatter(FuncFormatter(lambda y, p, f=fmt: (f % y).replace("-", "\u2212")))
    ax.set_ylim(*ylim)

    ax.xaxis.set_major_locator(FixedLocator(days_ticks))
    ax.tick_params(axis="x", which="both", direction="in", length=6, width=1.1,
                   top=True, bottom=True, labelbottom=last, pad=19)
    ax.tick_params(axis="y", which="major", direction="in", length=24, width=1.3,
                   left=True, right=True, labelsize=14.5, pad=5)
    ax.tick_params(axis="y", which="minor", direction="in", length=12, width=1.0,
                   left=True, right=True)
    for s in ax.spines.values():
        s.set_linewidth(1.3)
        s.set_color("#222222")
    if last:
        for t in ax.get_xticklabels():
            t.set_family(TICKFONT)
            t.set_fontweight("bold")
            t.set_fontsize(12.5)
        for lab, x0 in zip(STREAM_IDS, STREAM_LABEL_DAY):
            ax.text(x0, 10 ** 1.6, lab, fontsize=30, ha="left", va="baseline", zorder=4)
    fig.text(lx / W, 1 - (top + bot) / 2 / H, label, rotation=90,
             ha="center", va="center", fontsize=14)

    if i == 0:
        top_ax = ax.twiny()
        top_ax.set_xlim(211, 324)
        top_ax.xaxis.set_major_locator(FixedLocator(DIST_DAYS))
        top_ax.set_xticklabels(DIST_LABELS)
        top_ax.tick_params(axis="x", length=0, pad=10)
        for t in top_ax.get_xticklabels():
            t.set_family(TICKFONT)
            t.set_fontweight("bold")
            t.set_fontsize(12.5)
        for s in top_ax.spines.values():
            s.set_visible(False)

fig.text(938 / W, 1 - 24 / H, "Jovicentric distance [AU]", ha="center", va="center", fontsize=17)
fig.text(132 / W, 1 - 5 / H, "Fig.1) Second Flyby, Year 2004, Days 210-324",
         ha="left", va="baseline", fontsize=17)
fig.text(952 / W, 1 - 1413 / H, "2004, day of year", ha="center", va="center", fontsize=17)

fig.savefig("out.png", dpi=100)
